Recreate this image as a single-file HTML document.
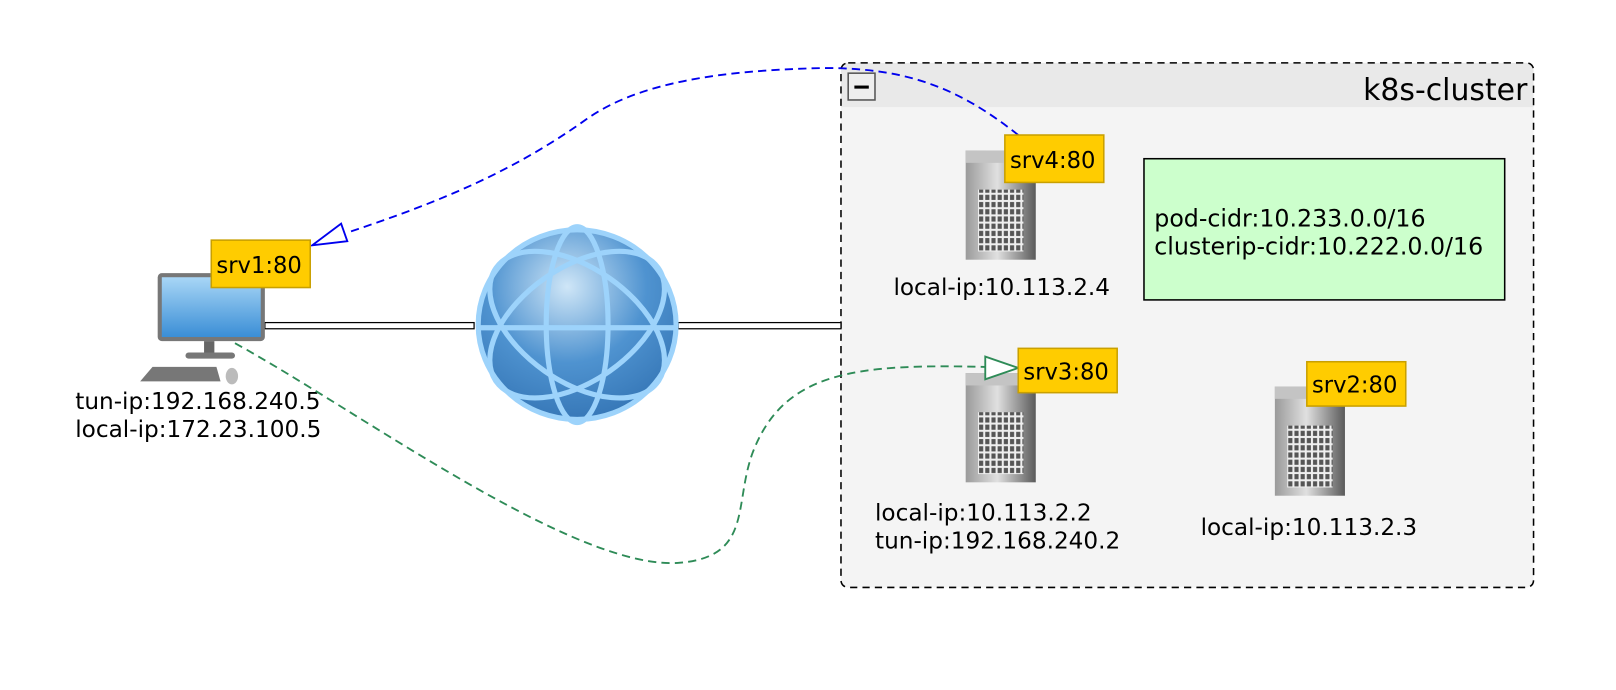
<!DOCTYPE html>
<html><head><meta charset="utf-8"><style>
body{margin:0;background:#fff;}
text{font-family:"DejaVu Sans","Liberation Sans",sans-serif;fill:#000;}
</style></head><body>
<svg width="1616" height="690" viewBox="0 0 1568 669.5" xmlns="http://www.w3.org/2000/svg" style="display:block">
<defs>
<linearGradient id="srv" x1="0" x2="1"><stop offset="0" stop-color="#9a9a9a"/><stop offset="0.45" stop-color="#e0e0e0"/><stop offset="1" stop-color="#5a5a5a"/></linearGradient>
<radialGradient id="glb" cx="0.45" cy="0.3" r="0.8"><stop offset="0" stop-color="#cfe6f7"/><stop offset="0.5" stop-color="#4f93d0"/><stop offset="1" stop-color="#2f6fb0"/></radialGradient>
<linearGradient id="scr" x1="0" y1="0" x2="0" y2="1"><stop offset="0" stop-color="#a8d6f6"/><stop offset="1" stop-color="#3a8ed6"/></linearGradient>
<pattern id="win" width="6" height="7" patternUnits="userSpaceOnUse"><rect width="6" height="7" fill="#eee"/><rect x="1" y="1" width="4" height="5" fill="#555"/></pattern>
<g id="server">
<rect x="0" y="0" width="68" height="106" fill="url(#srv)"/>
<rect x="0" y="0" width="68" height="12" fill="#c4c4c4"/>
<rect x="12" y="38" width="44" height="60" fill="url(#win)"/>
</g>
</defs>
<rect x="816" y="61" width="672" height="509" rx="7" fill="#f4f4f4"/>
<path d="M823 61 H1481 a7 7 0 0 1 7 7 V104 H816 V68 a7 7 0 0 1 7-7z" fill="#e9e9e9"/>
<rect x="816" y="61" width="672" height="509" rx="7" fill="none" stroke="#000" stroke-width="1.5" stroke-dasharray="7,5"/>
<rect x="823" y="71" width="26" height="26" fill="#eee" stroke="#555" stroke-width="1.5"/>
<rect x="829" y="83" width="14" height="3" fill="#000"/>
<text x="1482" y="97" font-size="29" text-anchor="end">k8s-cluster</text>
<rect x="1110" y="154" width="350" height="137" fill="#ccffcc" stroke="#000" stroke-width="1.5"/>
<text x="1120" y="220" font-size="23">pod-cidr:10.233.0.0/16</text>
<text x="1120" y="247" font-size="23">clusterip-cidr:10.222.0.0/16</text>
<use href="#server" x="937" y="146"/>
<use href="#server" x="937" y="362"/>
<use href="#server" x="1237" y="375"/>
<g stroke="#000" stroke-width="1.2" fill="#fff">
<rect x="257" y="313" width="203" height="6"/>
<rect x="658" y="313" width="158" height="6"/>
</g>
<ellipse cx="560" cy="315" rx="96" ry="92" fill="url(#glb)"/>
<g fill="none" stroke="#9dd3fb" stroke-width="5">
<ellipse cx="560" cy="315" rx="96" ry="92"/>
<line x1="462" y1="318" x2="658" y2="318"/>
<ellipse cx="560" cy="315" rx="30" ry="95"/>
<ellipse cx="560" cy="315" rx="96" ry="55" transform="rotate(-35 560 315)"/>
<ellipse cx="560" cy="315" rx="96" ry="55" transform="rotate(35 560 315)"/>
</g>
<rect x="153" y="265" width="104" height="66" rx="4" fill="#777"/>
<rect x="157" y="269" width="96" height="58" fill="url(#scr)"/>
<rect x="198" y="331" width="10" height="12" fill="#666"/>
<rect x="180" y="342" width="48" height="6" rx="3" fill="#777"/>
<polygon points="148,356 210,356 214,370 136,370" fill="#777"/>
<ellipse cx="225" cy="365" rx="6" ry="8" fill="#bbb"/>
<g font-size="22.5">
<text x="73" y="397">tun-ip:192.168.240.5</text>
<text x="73" y="424">local-ip:172.23.100.5</text>
<text x="972" y="286" text-anchor="middle">local-ip:10.113.2.4</text>
<text x="849" y="505">local-ip:10.113.2.2</text>
<text x="849" y="532">tun-ip:192.168.240.2</text>
<text x="1270" y="519" text-anchor="middle">local-ip:10.113.2.3</text>
</g>
<path d="M988 131 C930 85 880 66 800 66 C700 68 620 80 570 115 C500 165 430 195 336 226" fill="none" stroke="#0000ee" stroke-width="1.8" stroke-dasharray="8,5"/>
<polygon points="303,238 331,217 337,234" fill="#fff" stroke="#0000ee" stroke-width="1.8"/>
<path d="M228 333 C350 400 560 555 660 546 C730 540 712 490 730 440 C760 360 830 353 956 356" fill="none" stroke="#2e8b57" stroke-width="1.8" stroke-dasharray="8,5"/>
<polygon points="988,357 956,346 956,368" fill="#fff" stroke="#2e8b57" stroke-width="1.8"/>
<g stroke="#c9a000" stroke-width="1.5" fill="#ffcc00">
<rect x="205" y="233" width="96" height="46"/>
<rect x="975" y="131" width="96" height="46"/>
<rect x="988" y="338" width="96" height="43"/>
<rect x="1268" y="351" width="96" height="43"/>
</g>
<g font-size="22">
<text x="210" y="265">srv1:80</text>
<text x="980" y="163">srv4:80</text>
<text x="993" y="368">srv3:80</text>
<text x="1273" y="381">srv2:80</text>
</g>
</svg>
</body></html>
